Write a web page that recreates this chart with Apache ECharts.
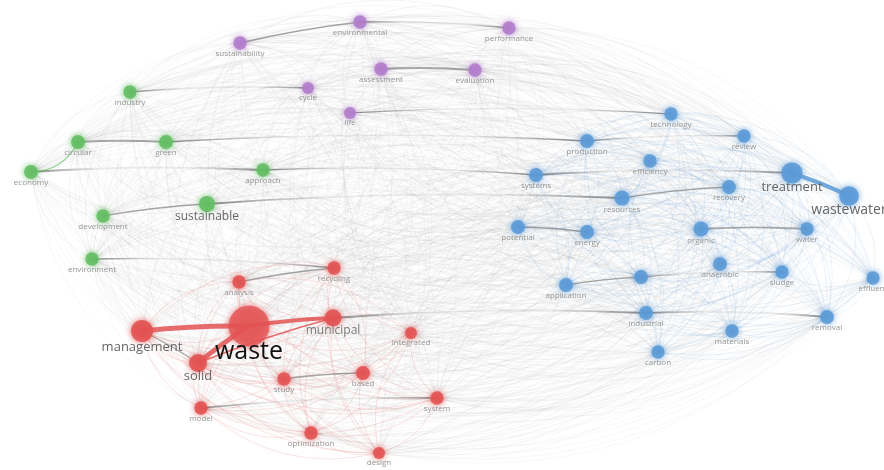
<!DOCTYPE html>
<html><head><meta charset="utf-8">
<script src="https://cdn.jsdelivr.net/npm/echarts@6/dist/echarts.min.js"></script>
<style>html,body{margin:0;padding:0;background:#fff}#c{width:884px;height:470px}</style>
</head><body><div id="c"></div>
<script>
// ---- data ----
const names = ["environmental","performance","sustainability","assessment","evaluation","cycle","life",
"industry","circular","green","economy","approach","development","sustainable","environment",
"analysis","recycling","management","waste","municipal","integrated","solid","study","based","system","model","optimization","design",
"technology","review","production","efficiency","systems","treatment","recovery","resources","wastewater","potential","energy","organic","water","anaerobic","sludge","effluent","digestion","application","industrial","removal","materials","carbon"];
const clusters = [3,3,3,3,3,3,3, 1,1,1,1,1,1,1,1, 0,0,0,0,0,0,0,0,0,0,0,0,0, 2,2,2,2,2,2,2,2,2,2,2,2,2,2,2,2,2,2,2,2,2,2];
const mapX = [360,509,240,381,475,308,350, 130,78,166,31,263,103,207,92, 239,334,142,249,333,411,198,284,363,437,201,311,379, 671,744,587,650,536,792,729,622,849,518,587,701,807,720,782,873,641,566,646,827,732,658];
const mapY = [22,28,43,69,70,88,113, 92,142,142,172,170,216,204,259, 282,268,331,326,318,333,363,379,373,398,408,433,453, 114,136,141,161,175,173,187,198,196,227,232,229,229,264,272,278,277,285,313,317,331,352];
const occurrences = [11,11,11,11,11,9,9, 11,12,12,12,11,11,16,11, 11,11,30,105,18,9,20,11,12,11,11,11,9, 11,11,12,11,12,28,12,14,24,12,12,14,11,12,11,11,12,12,12,12,11,11];
const strongLinks = [
 ["waste","management",5],["waste","solid",5],["waste","municipal",4],["solid","municipal",1.5],["management","solid",1.2],
 ["treatment","wastewater",4],
 ["circular","green",2],["green","production",1.5],["economy","approach",2],["approach","systems",1.5],["industry","cycle",1.5],
 ["sustainability","environmental",1.5],["environmental","performance",1.5],["assessment","evaluation",2],["life","technology",1.2],
 ["development","sustainable",1.5],["sustainable","resources",1.8],["environment","recycling",1.5],["analysis","recycling",1.5],
 ["municipal","industrial",1.8],["study","based",1.5],["model","system",1.5],["production","review",1.5],["systems","treatment",1.8],
 ["resources","recovery",1.5],["potential","energy",1.5],["organic","water",1.8],["digestion","sludge",1.5],["application","digestion",1.5],
 ["industrial","removal",1.8],["economy","circular",1.2]
];
const hiddenLabels = ["digestion"];

// ---- styles ----
const clusterColors = ['#e35252','#63bd63','#5b9ad6','#b27ccb'];
const clusterRgba = ['rgba(227,82,82,A)','rgba(99,189,99,A)','rgba(91,154,214,A)','rgba(178,124,203,A)'];
const bigLabels = {
  waste:{size:25,color:'#111',dist:-7},
  management:{size:13,color:'#666',dist:-1},
  solid:{size:13,color:'#666',dist:-2},
  treatment:{size:13,color:'#666',dist:-3},
  wastewater:{size:14,color:'#666',dist:-3},
  municipal:{size:12,color:'#777',dist:-2},
  sustainable:{size:12,color:'#666',dist:-1}
};
const idx = {}; names.forEach((n,i)=>idx[n]=i);

const nodes = names.map((n,i)=>{
  const c = clusters[i];
  const big = bigLabels[n];
  return {
    name:n, value:[mapX[i],mapY[i]],
    symbolSize: 4*Math.sqrt(occurrences[i]),
    itemStyle:{color:clusterRgba[c].replace('A', n==='waste'?'0.75':'0.88'), shadowBlur:6, shadowColor:clusterColors[c]},
    label:{show: hiddenLabels.indexOf(n)<0, position:'bottom', distance: big?big.dist:0,
      fontSize: big?big.size:8, color: big?big.color:'#959595',
      fontFamily:'"Open Sans", "Liberation Sans", sans-serif'}
  };
});

const cx = 450, cy = 235;
function orient(i,j){
  const x1=mapX[i],y1=mapY[i],x2=mapX[j],y2=mapY[j];
  const mx=(x1+x2)/2-cx, my=(y1+y2)/2-cy;
  const d = Math.hypot(mx/400, my/210);
  if(d<0.5) return mapX[i]<mapX[j]? ((i+j)%2? [i,j]:[j,i]) : ((i+j)%2? [j,i]:[i,j]);
  const ox=(y2-y1), oy=(x1-x2);
  return (ox*mx+oy*my)>=0 ? [i,j] : [j,i];
}
const links = [];
for(let i=0;i<names.length;i++){
  for(let j=i+1;j<names.length;j++){
    const [s,t]=orient(i,j);
    const same = clusters[i]===clusters[j];
    let color='#8c8c8c', op=0.1, w=0.6;
    if(same && clusters[i]===0){color='#e35252';op=0.24;w=0.7;}
    else if(same && clusters[i]===2){color='#5b9ad6';op=0.2;w=0.6;}
    else if(same){op=0.16;}
    links.push({source:s,target:t,lineStyle:{color:color,opacity:op,width:w,curveness:0.26}});
  }
}
strongLinks.forEach(([a,b,w])=>{
  const i=idx[a], j=idx[b];
  const ci=clusters[i], cj=clusters[j];
  let color='#6e6e6e', op=0.6;
  const len = Math.hypot(mapX[i]-mapX[j], mapY[i]-mapY[j]);
  if(len>140){
    color = {type:'linear',x:0,y:0,x2:1,y2:0,colorStops:[
      {offset:0,color:'rgba(95,95,95,0.8)'},{offset:0.3,color:'rgba(130,130,130,0.15)'},
      {offset:0.7,color:'rgba(130,130,130,0.15)'},{offset:1,color:'rgba(95,95,95,0.8)'}]};
    op=1;
  }
  if(ci===0 && cj===0 && (a==='waste'||b==='waste'||a==='solid')){color='#e35252';op=0.85;}
  if(ci===2 && cj===2 && w>=4){color='#5b9ad6';op=0.85;}
  if(a==='economy'&&b==='circular'){color='#63bd63';op=0.7;}
  const s = mapX[i]<=mapX[j]? i : j, t = s===i? j : i;
  links.push({source:s,target:t,lineStyle:{color:color,opacity:op,width:w,curveness:(a==='economy'&&b==='circular')?-0.3:0.03}});
});

const chart = echarts.init(document.getElementById('c'));
chart.setOption({
  animation:false,
  backgroundColor:'#fff',
  grid:{left:0,right:0,top:0,bottom:0},
  xAxis:{type:'value',min:0,max:884,show:false},
  yAxis:{type:'value',min:0,max:470,inverse:true,show:false},
  series:[{
    type:'graph', coordinateSystem:'cartesian2d', layout:'none',
    data:nodes, links:links, edgeSymbol:['none','none'],
    silent:true, emphasis:{disabled:true}
  }]
});
</script>
</body></html>
